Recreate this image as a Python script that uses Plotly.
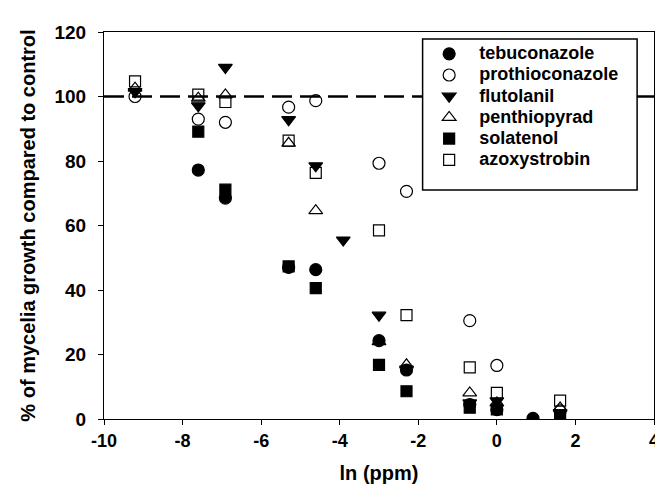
import plotly.graph_objects as go

# ln(ppm) concentrations
x_teb = [-7.60, -6.91, -5.30, -4.61, -3.00, -2.30, -0.69, 0.00, 0.92]
y_teb = [77.2, 68.5, 47.0, 46.3, 24.3, 15.2, 4.5, 2.9, 0.2]

x_pro = [-9.21, -7.60, -6.91, -5.30, -4.61, -3.00, -2.30, -0.69, 0.00, 1.61]
y_pro = [100.0, 93.0, 92.0, 96.7, 98.7, 79.3, 70.6, 30.5, 16.6, 2.5]

x_flu = [-9.21, -7.60, -6.91, -5.30, -4.61, -3.91, -3.00, -2.30, -0.69, 0.00, 1.61]
y_flu = [101.5, 97.1, 109.0, 92.8, 78.5, 55.5, 32.2, 15.5, 5.0, 5.6, 2.0]

x_pen = [-9.21, -7.60, -6.91, -5.30, -4.61, -3.00, -2.30, -0.69, 0.00, 1.61]
y_pen = [102.6, 99.5, 100.5, 85.5, 64.6, 24.0, 16.8, 8.1, 5.0, 3.4]

x_sol = [-7.60, -6.91, -5.30, -4.61, -3.00, -2.30, -0.69, 0.00, 1.61]
y_sol = [89.1, 71.1, 47.3, 40.6, 16.8, 8.6, 3.5, 3.0, 0.8]

x_azo = [-9.21, -7.60, -6.91, -5.30, -4.61, -3.00, -2.30, -0.69, 0.00, 1.61]
y_azo = [104.7, 100.6, 98.3, 86.3, 76.3, 58.5, 32.2, 16.0, 8.1, 5.7]

names = ["tebuconazole", "prothioconazole", "flutolanil", "penthiopyrad", "solatenol", "azoxystrobin"]
symbols = ["circle", "circle-open", "triangle-down", "triangle-up-open", "square", "square-open"]
sizes = [12, 12, 12, 12, 11, 11]
xs = [x_teb, x_pro, x_flu, x_pen, x_sol, x_azo]
ys = [y_teb, y_pro, y_flu, y_pen, y_sol, y_azo]

x_tickvals = [-10, -8, -6, -4, -2, 0, 2, 4]
x_ticktext = ["-10", "-8", "-6", "-4", "-2", "0", "2", "4"]
y_tickvals = [0, 20, 40, 60, 80, 100, 120]
y_ticktext = ["0", "20", "40", "60", "80", "100", "120"]

FONT = "Arial, Liberation Sans, sans-serif"

fig = go.Figure()
for nm, sym, sz, xx, yy in zip(names, symbols, sizes, xs, ys):
    fig.add_trace(go.Scatter(
        x=xx, y=yy, mode="markers",
        name="<span style='font-size:18px'>" + nm + "</span>",
        marker=dict(symbol=sym, size=sz, color="black", line=dict(color="black", width=1.2)),
    ))

# reference line at 100 %
fig.add_shape(type="line", xref="x", yref="y", x0=-10, x1=4, y0=100, y1=100,
              line=dict(color="black", width=2.5, dash="20px,8px"), layer="below")
# legend box
fig.add_shape(type="rect", xref="x", yref="y", x0=-1.89, x1=3.57, y0=71.0, y1=117.8,
              line=dict(color="black", width=1.5), fillcolor="white", layer="above")

fig.update_layout(
    width=663, height=489,
    margin=dict(l=96, r=13, t=24, b=78),
    paper_bgcolor="white", plot_bgcolor="white",
    font=dict(family=FONT, color="black", size=18, weight="bold"),
    showlegend=True,
    legend=dict(x=0.573, xanchor="left", y=0.984, yanchor="top",
                bgcolor="rgba(0,0,0,0)", borderwidth=0, itemwidth=50,
                font=dict(family=FONT, size=14, color="black", weight="bold"),
                tracegroupgap=0),
    xaxis=dict(range=[-10, 4], tickvals=x_tickvals, ticktext=x_ticktext,
               ticks="outside", ticklen=5,
               tickwidth=1, tickcolor="black", showline=True, linecolor="black",
               linewidth=1, mirror=True, showgrid=False, zeroline=False,
               tickfont=dict(family=FONT, size=18, weight="bold"),
               title=dict(text="ln (ppm)", font=dict(family=FONT, size=20, weight="bold"), standoff=16)),
    yaxis=dict(range=[0, 120], tickvals=y_tickvals, ticktext=y_ticktext,
               ticks="outside", ticklen=5, ticklabelstandoff=8,
               tickwidth=1, tickcolor="black", showline=True, linecolor="black",
               linewidth=1, mirror=True, showgrid=False, zeroline=False,
               tickfont=dict(family=FONT, size=19, weight="bold"),
               title=dict(text="% of mycelia growth compared to control",
                          font=dict(family=FONT, size=20, weight="bold"), standoff=13)),
)

fig.write_html("out.html")
